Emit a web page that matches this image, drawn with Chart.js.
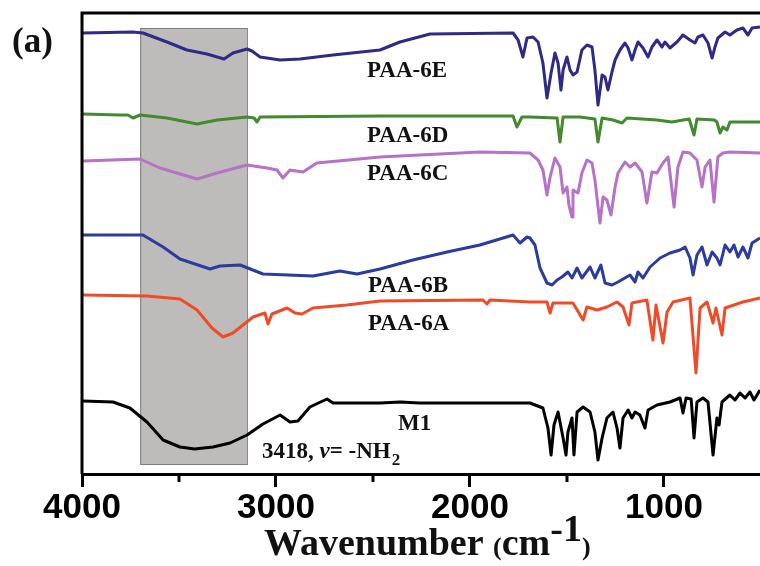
<!DOCTYPE html>
<html>
<head>
<meta charset="utf-8">
<script src="https://cdn.jsdelivr.net/npm/chart.js@4/dist/chart.umd.min.js"></script>
<style>
  html, body { margin: 0; padding: 0; background: #fff; }
  #wrap { width: 760px; height: 566px; }
</style>
</head>
<body>
<div id="wrap"><canvas id="ftirChart" width="760" height="566"></canvas></div>
<script>
// FTIR spectra, transmittance in arbitrary offset units, x in cm-1
const m1 = [[3995,73],[3840,72],[3753,66],[3665,52],[3582,34],[3495,27],[3420,25],[3325,27],[3237,31],[3149,39],
  [3067,50],[2979,59],[2928,52],[2887,53],[2825,67],[2737,75],[2706,71],[2464,71],[2360,72],[2260,71],
  [1691,71],[1624,66],[1598,46],[1582,19],[1567,49],[1546,62],[1520,36],[1505,19],[1495,42],[1474,56],
  [1464,19],[1448,62],[1417,67],[1381,62],[1356,42],[1340,14],[1319,36],[1294,56],[1263,62],[1242,46],
  [1227,26],[1211,56],[1185,64],[1165,56],[1149,62],[1124,59],[1098,46],[1082,64],[1036,69],[969,72],
  [917,76],[902,61],[886,76],[860,75],[845,36],[830,72],[799,76],[773,72],[747,19],[727,56],[716,49],
  [701,72],[660,79],[634,74],[608,81],[582,76],[557,82],[536,74],[505,84]];

const paa6A = [[3995,179],[3665,178],[3495,175],[3407,164],[3330,146],[3273,137],[3222,141],[3118,157],[3057,161],[3041,150],
  [3021,160],[2943,166],[2902,161],[2866,160],[2809,166],[2634,169],[2464,173],[1933,174],[1912,170],[1897,174],
  [1691,172],[1603,172],[1587,161],[1572,171],[1469,171],[1417,154],[1397,167],[1345,164],[1294,167],[1242,172],
  [1211,167],[1180,149],[1165,171],[1088,174],[1057,134],[1041,169],[1005,131],[984,162],[953,172],[866,176],
  [835,101],[814,166],[778,172],[747,151],[732,166],[701,139],[685,166],[593,172],[505,176]];

const paa6B = [[3995,239],[3686,239],[3582,227],[3495,215],[3340,205],[3289,208],[3185,209],[3067,200],[2809,198],[2670,203],
  [2582,200],[2464,205],[2294,214],[2118,222],[1949,229],[1778,239],[1742,231],[1706,237],[1691,236],[1665,229],
  [1639,206],[1603,191],[1577,189],[1551,194],[1526,197],[1495,202],[1474,196],[1448,206],[1423,196],[1381,207],
  [1356,196],[1325,209],[1304,191],[1268,189],[1237,192],[1175,199],[1149,192],[1134,202],[1108,196],[1072,207],
  [1020,216],[969,221],[917,224],[891,227],[866,216],[850,199],[830,219],[804,227],[778,209],[752,222],
  [727,216],[711,209],[685,229],[660,222],[639,229],[618,217],[593,227],[567,216],[546,231],[505,236]];

const paa6C = [[3995,313],[3701,315],[3598,306],[3407,295],[3304,301],[3149,309],[3046,306],[2995,304],[2964,296],[2928,304],
  [2861,302],[2789,311],[2464,317],[1949,322],[1691,321],[1649,314],[1624,304],[1603,279],[1587,297],[1562,316],
  [1536,307],[1520,281],[1500,287],[1490,269],[1474,257],[1469,284],[1443,281],[1423,301],[1397,314],[1371,311],
  [1356,294],[1330,251],[1314,277],[1294,274],[1273,259],[1252,287],[1237,301],[1201,312],[1175,307],[1149,311],
  [1113,302],[1088,271],[1062,302],[1036,301],[1005,311],[979,317],[948,267],[928,307],[902,322],[866,321],
  [830,314],[804,287],[788,307],[763,314],[742,272],[722,317],[696,321],[660,322],[505,321]];

const paa6D = [[3995,360],[3804,359],[3763,359],[3737,356],[3701,359],[3562,356],[3407,350],[3304,354],[3149,357],[3113,356],
  [3098,352],[3082,357],[2464,358],[1778,358],[1758,347],[1732,357],[1691,357],[1551,356],[1536,332],[1520,357],
  [1433,357],[1356,355],[1340,332],[1319,356],[1263,354],[1216,351],[1191,356],[1036,354],[960,352],[870,355],
  [845,339],[830,355],[740,354],[727,352],[711,341],[696,347],[675,344],[660,352],[505,352]];

const paa6E = [[3995,441],[3737,442],[3686,441],[3562,432],[3459,424],[3356,420],[3268,415],[3222,421],[3149,425],[3124,423],
  [3082,417],[2979,414],[2876,415],[2706,419],[2464,424],[2361,432],[2206,440],[1778,441],[1752,434],[1727,417],
  [1706,436],[1675,437],[1649,432],[1624,411],[1603,376],[1582,401],[1562,421],[1546,411],[1531,384],[1520,404],
  [1500,417],[1484,404],[1469,399],[1448,402],[1423,424],[1397,429],[1371,427],[1356,404],[1340,369],[1319,399],
  [1304,397],[1289,384],[1268,402],[1252,414],[1227,424],[1201,431],[1185,426],[1165,414],[1149,424],[1134,432],
  [1108,426],[1082,417],[1062,427],[1036,434],[1010,427],[995,432],[969,426],[933,432],[902,439],[866,434],
  [840,431],[825,437],[799,439],[773,431],[752,416],[737,427],[722,436],[685,442],[660,439],[624,444],
  [593,446],[567,439],[546,446],[505,447]];

const seriesNames = ['M1', 'PAA-6A', 'PAA-6B', 'PAA-6C', 'PAA-6D', 'PAA-6E'];
const seriesData = [m1, paa6A, paa6B, paa6C, paa6D, paa6E];
const seriesColors = ['#000000', '#f04b28', '#2b3b9e', '#b572c6', '#418a2d', '#2f2a86'];

// label anchors [wavenumber, value] for the curve names
const labelPos = [[2371,44],[2526,144],[2526,182],[2531,294],[2531,332],[2531,397]];
const majorTicks = [4000, 3000, 2000, 1000];
const minorTicks = [3500, 2500, 1500];
const nhBand = [3700, 3150];

const fontSerif = "'Liberation Serif', 'Times New Roman', serif";
const fontSans = "'Liberation Sans', Arial, sans-serif";

const decorPlugin = {
  id: 'decor',
  beforeDatasetsDraw(chart) {
    const { ctx, scales: { x, y } } = chart;
    // shaded N-H stretching region
    const x0 = x.getPixelForValue(nhBand[0]);
    const x1 = x.getPixelForValue(nhBand[1]);
    const y0 = y.getPixelForValue(446);
    const y1 = y.getPixelForValue(10);
    ctx.save();
    ctx.fillStyle = '#bebcba';
    ctx.fillRect(x0, y0, x1 - x0, y1 - y0);
    ctx.strokeStyle = '#7d7d7d';
    ctx.lineWidth = 1;
    ctx.strokeRect(x0 + 0.5, y0 + 0.5, x1 - x0, y1 - y0);
    ctx.restore();
  },
  afterDraw(chart) {
    const { ctx, chartArea: a, scales: { x, y } } = chart;
    ctx.save();
    // left and top frame
    ctx.strokeStyle = '#000';
    ctx.lineWidth = 3;
    ctx.beginPath();
    ctx.moveTo(a.left, a.bottom);
    ctx.lineTo(a.left, a.top);
    ctx.lineTo(a.right, a.top);
    ctx.stroke();
    // short minor ticks
    minorTicks.forEach(v => {
      const px = x.getPixelForValue(v);
      ctx.beginPath();
      ctx.moveTo(px, a.bottom);
      ctx.lineTo(px, a.bottom + 8);
      ctx.stroke();
    });

    // curve names
    ctx.fillStyle = '#111';
    ctx.textBaseline = 'alphabetic';
    ctx.font = 'bold 23px ' + fontSerif;
    seriesNames.forEach((name, i) => {
      ctx.fillText(name, x.getPixelForValue(labelPos[i][0]), y.getPixelForValue(labelPos[i][1]));
    });

    // band assignment
    let tx = x.getPixelForValue(3072);
    const ty = y.getPixelForValue(16);
    const parts = [['3418, ', 'bold 23px '], ['v', 'italic bold 23px '], ['= -NH', 'bold 23px ']];
    parts.forEach(([t, f]) => {
      ctx.font = f + fontSerif;
      ctx.fillText(t, tx, ty);
      tx += ctx.measureText(t).width;
    });
    ctx.font = 'bold 17px ' + fontSerif;
    ctx.fillText('2', tx + 1, ty + 7);

    // panel tag
    ctx.font = 'bold 35px ' + fontSerif;
    ctx.fillText('(a)', 12, 52);

    // axis title
    let ax = 264;
    const ab = 555;
    const titleParts = [
      ['Wavenumber ', 'bold 38px ', 0],
      ['(', 'bold 26px ', 0],
      ['cm', 'bold 38px ', 0],
      ['-1', 'bold 38px ', -14],
      [')', 'bold 26px ', 0]
    ];
    titleParts.forEach(([t, f, dy]) => {
      ctx.font = f + fontSerif;
      ctx.fillText(t, ax, ab + dy);
      ax += ctx.measureText(t).width;
    });
    ctx.restore();
  }
};

new Chart(document.getElementById('ftirChart').getContext('2d'), {
  type: 'line',
  data: {
    datasets: seriesData.map((pts, i) => ({
      label: seriesNames[i],
      data: pts.map(([wn, t]) => ({ x: wn, y: t })),
      borderColor: seriesColors[i],
      borderWidth: 3,
      borderJoinStyle: 'round',
      pointRadius: 0,
      tension: 0,
      fill: false
    }))
  },
  options: {
    responsive: false,
    animation: false,
    layout: { padding: { left: 82, top: 13, right: 0, bottom: 0 } },
    plugins: {
      legend: { display: false },
      tooltip: { enabled: false }
    },
    scales: {
      x: {
        type: 'linear',
        reverse: true,
        min: 505,
        max: 4000,
        afterBuildTicks: (scale) => {
          scale.ticks = majorTicks.concat(minorTicks).sort((a, b) => b - a).map(v => ({ value: v }));
        },
        afterFit: (scale) => { scale.height = 92; },
        ticks: {
          padding: 0,
          color: '#000',
          font: { family: fontSans, size: 35, weight: 'bold' },
          callback: (v) => (v % 1000 === 0 ? String(v) : '')
        },
        grid: {
          drawOnChartArea: false,
          drawTicks: true,
          tickLength: 13,
          tickWidth: 3,
          tickColor: (c) => (c.tick && c.tick.value % 1000 === 0 ? '#000' : 'rgba(0,0,0,0)')
        },
        border: { display: true, color: '#000', width: 3 }
      },
      y: {
        display: false,
        min: 0,
        max: 461
      }
    }
  },
  plugins: [decorPlugin]
});
</script>
</body>
</html>
